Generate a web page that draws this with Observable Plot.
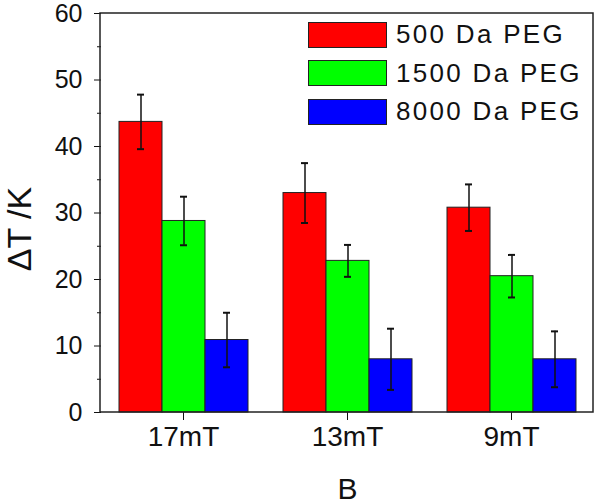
<!DOCTYPE html>
<html>
<head>
<meta charset="utf-8">
<script src="https://cdn.jsdelivr.net/npm/d3@7"></script>
<script src="https://cdn.jsdelivr.net/npm/@observablehq/plot@0.6"></script>
<style>
  body { margin: 0; background: #fff; }
  #wrap { position: relative; width: 600px; height: 504px; font-family: "Liberation Sans", Arial, sans-serif; }
  #legend { position: absolute; left: 308px; top: 21px; }
  .row { display: flex; align-items: center; height: 27px; margin-bottom: 11.5px; }
  .sw { width: 79px; height: 26px; border: 1px solid #222; box-sizing: border-box; }
  .lab { margin-left: 9px; font-size: 26px; letter-spacing: 2.3px; color: #111; white-space: nowrap; }
</style>
</head>
<body>
<div id="wrap"><div id="legend"></div></div>
<script>
const groups = ["17mT", "13mT", "9mT"];
const series = ["500 Da PEG", "1500 Da PEG", "8000 Da PEG"];
const colors = ["#ff0000", "#00ff00", "#0000ff"];
const peg500 = [43.7, 33.0, 30.8];
const peg500Err = [4.1, 4.5, 3.5];
const peg1500 = [28.8, 22.8, 20.5];
const peg1500Err = [3.65, 2.4, 3.2];
const peg8000 = [10.9, 8.0, 8.0];
const peg8000Err = [4.1, 4.6, 4.2];
const yTicks = [0, 10, 20, 30, 40, 50, 60];
const yMinor = [5, 15, 25, 35, 45, 55];

const vals = [peg500, peg1500, peg8000];
const errs = [peg500Err, peg1500Err, peg8000Err];
const data = [];
groups.forEach((g, gi) => series.forEach((s, si) => {
  data.push({B: g, PEG: s, value: vals[si][gi], lo: vals[si][gi] - errs[si][gi], hi: vals[si][gi] + errs[si][gi]});
}));

const W = 600, H = 504, mL = 100, mR = 7, mT = 13, mB = 92;

const chart = Plot.plot({
  width: W, height: H,
  marginLeft: mL, marginRight: mR, marginTop: mT, marginBottom: mB,
  style: {fontFamily: "'Liberation Sans', Arial, sans-serif", color: "#111", background: "#fff"},
  fx: {domain: groups, padding: 0, axis: null},
  x: {domain: series, paddingInner: 0, paddingOuter: 0.38, axis: null},
  y: {domain: [0, 60], axis: null},
  color: {domain: series, range: colors},
  marks: [
    Plot.barY(data, {fx: "B", x: "PEG", y: "value", fill: "PEG", stroke: "#222", strokeWidth: 1}),
    Plot.ruleX(data, {fx: "B", x: "PEG", y1: "lo", y2: "hi", stroke: "#111", strokeWidth: 1.5}),
    Plot.tickY(data, {fx: "B", x: "PEG", y: "lo", stroke: "#111", strokeWidth: 2, insetLeft: 18, insetRight: 18}),
    Plot.tickY(data, {fx: "B", x: "PEG", y: "hi", stroke: "#111", strokeWidth: 2, insetLeft: 18, insetRight: 18}),
    Plot.axisY(yTicks, {anchor: "left", tickSize: 7, tickPadding: 12, fontSize: 25, letterSpacing: 2,
      label: "ΔT /K", labelArrow: "none", labelAnchor: "center", labelOffset: 95}),
    Plot.axisY(yMinor, {anchor: "left", tickSize: 4, tickFormat: () => "", label: null}),
    Plot.axisFx({anchor: "bottom", tickSize: 8, tickPadding: 6, fontSize: 28, letterSpacing: 1.5,
      label: "B", labelArrow: "none", labelAnchor: "center", labelOffset: 86})
  ]
});

const svg = d3.select(chart);
svg.selectAll("text").each(function() {
  const t = d3.select(this);
  const s = t.text();
  if (s.includes("ΔT")) t.text("ΔT /K").style("font-size", "34px").attr("letter-spacing", 0).attr("x", -16);
  else if (s.trim() === "B" || s.startsWith("B ")) t.text("B").style("font-size", "30px").attr("letter-spacing", 0);
});
const ys = chart.scale("y");
svg.append("rect")
  .attr("x", mL).attr("y", ys.apply(60))
  .attr("width", W - mL - mR).attr("height", ys.apply(0) - ys.apply(60))
  .attr("fill", "none").attr("stroke", "#222").attr("stroke-width", 1.5);

document.getElementById("wrap").prepend(chart);
const leg = document.getElementById("legend");
series.forEach((s, i) => {
  const row = document.createElement("div");
  row.className = "row";
  row.innerHTML = `<div class="sw" style="background:${colors[i]}"></div><div class="lab">${s}</div>`;
  leg.appendChild(row);
});
</script>
</body>
</html>
